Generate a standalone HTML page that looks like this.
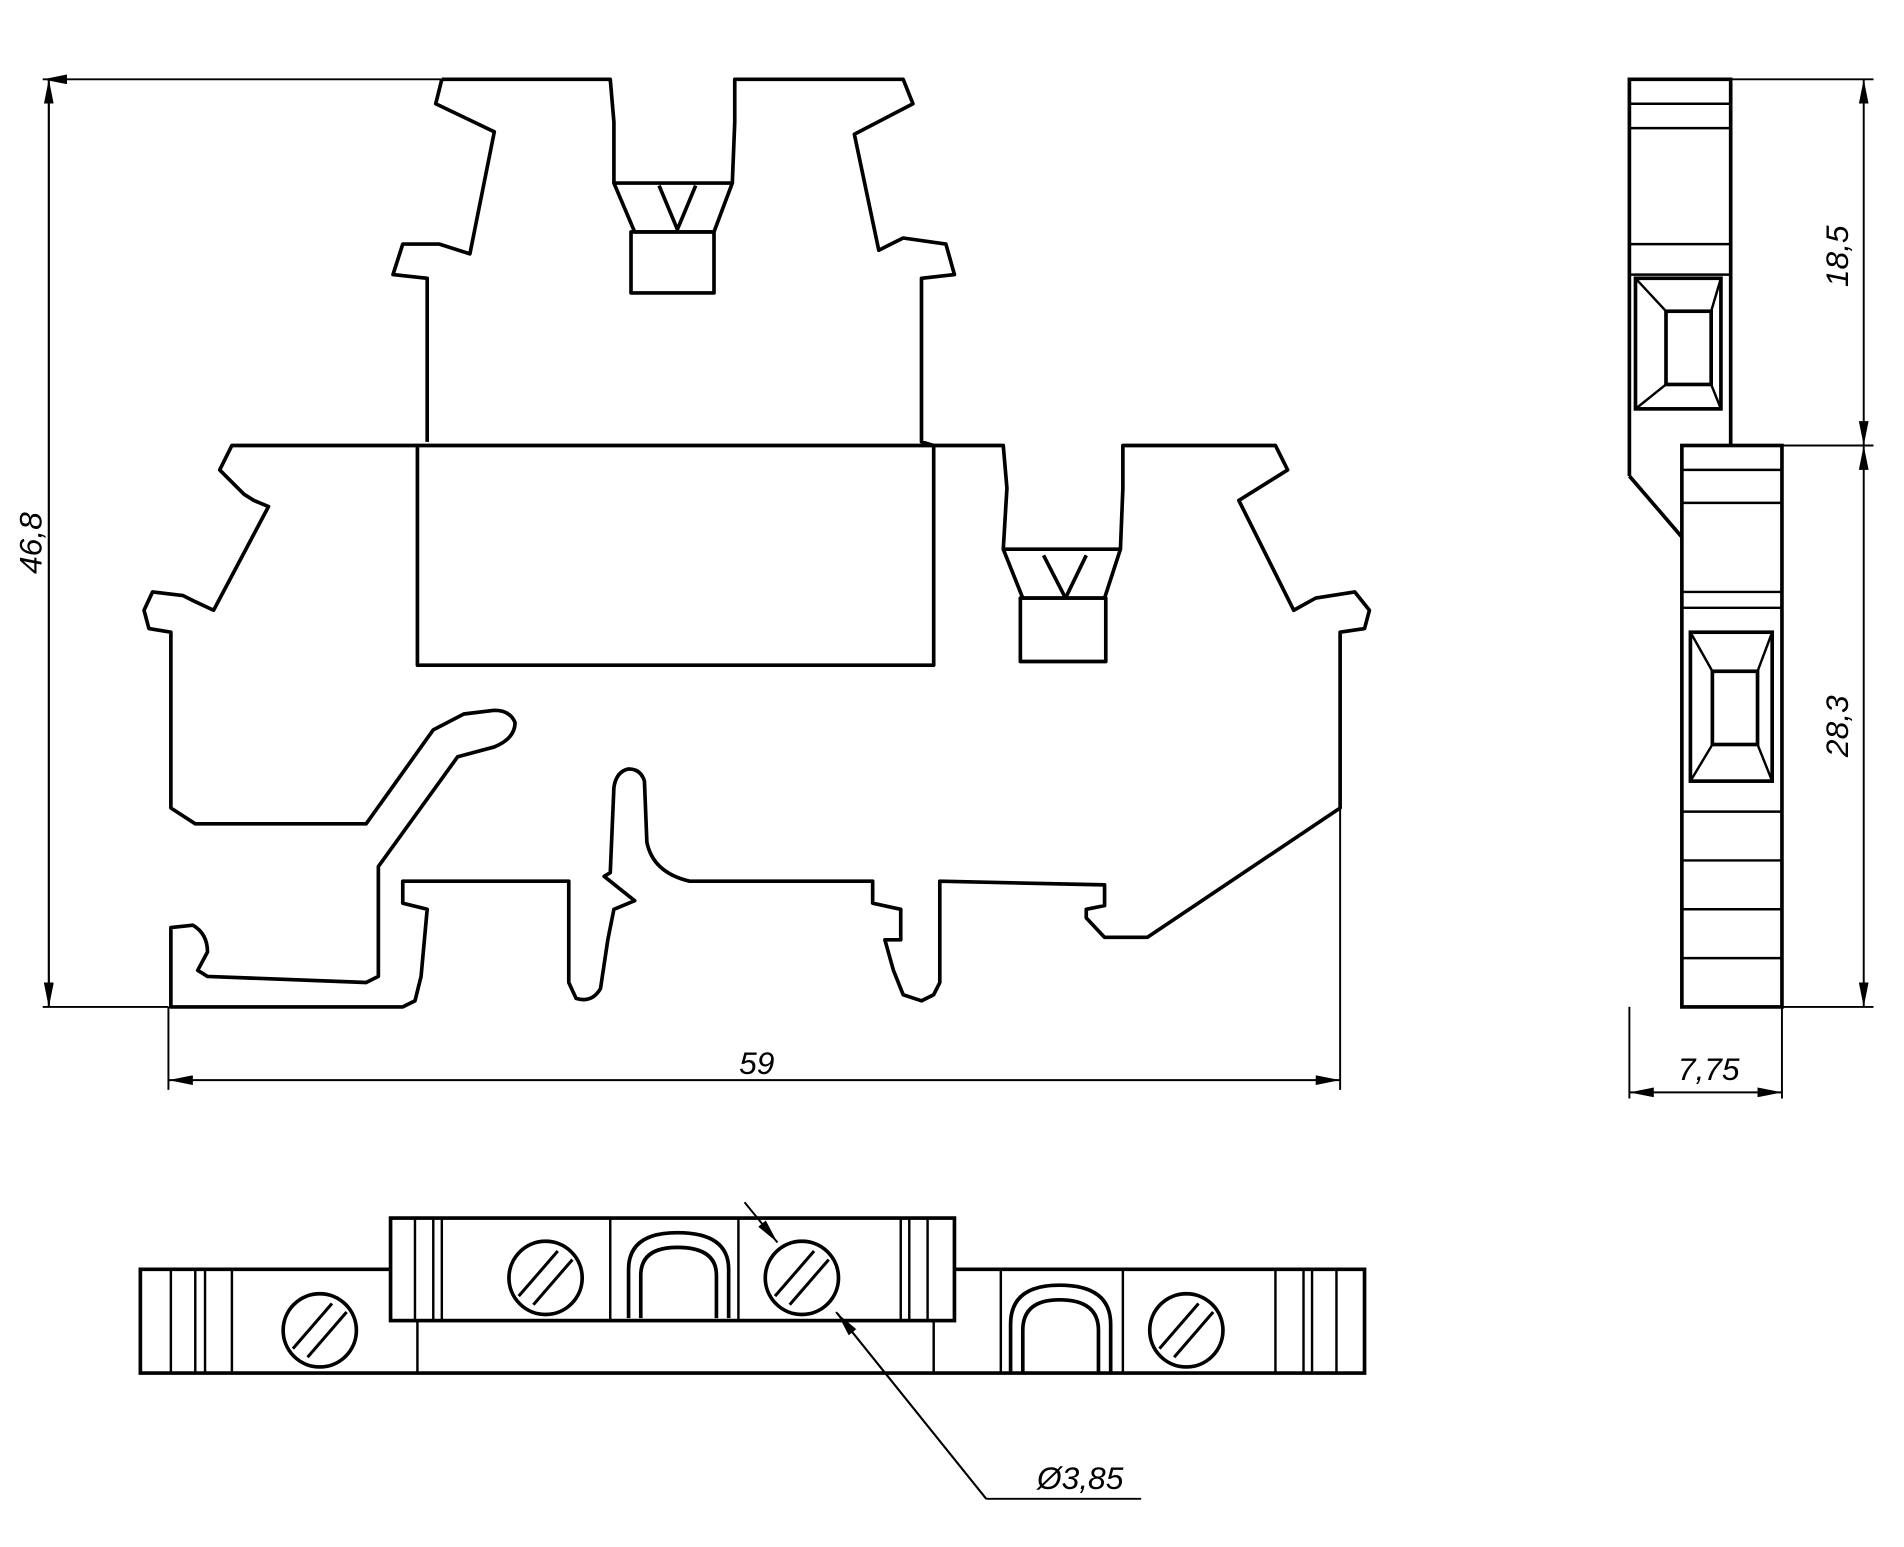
<!DOCTYPE html>
<html><head><meta charset="utf-8"><style>
html,body{margin:0;padding:0;background:#fff;}
svg{display:block;}
text{font-family:"Liberation Sans",sans-serif;font-style:italic;font-size:26px;fill:#000;}
</style></head><body>
<svg width="1904" height="1547" viewBox="0 0 1560 1267.5" preserveAspectRatio="none" xmlns="http://www.w3.org/2000/svg">
<defs><marker id="a" viewBox="0 0 20 8" refX="20" refY="4" markerWidth="20" markerHeight="8" orient="auto-start-reverse" markerUnits="userSpaceOnUse"><path d="M0,0 L20,4 L0,8 Z" fill="#000"/></marker></defs>
<g fill="none" stroke="#000" stroke-width="3" stroke-linejoin="round">
<!-- front view outline -->
<path d="M362,65 L500,65 L503,100 L503,150 M600,150 L602,100 L602,65 L740,65 L748,85 L700,110 L720,205 L740,195 L775,200 L782,225 L755,228 L755,362 L765,365 L822,365 L825,400 L822,450 M918,450 L920,400 L920,365 L1045,365 L1055,385 L1015,410 L1060,500 L1078,490 L1110,485 L1122,500 L1118,515 L1098,518 L1098,662 L940,768 L905,768 L890,752 L890,745 L905,742 L905,725 L770,722 L770,805 L765,815 L755,820 L740,815 L732,795 L725,770 L738,770 L738,745 L715,740 L715,722 L565,722 Q535,715 530,690 L528,640 Q525,630 515,630 Q505,632 503,645 L500,715 L495,718 L520,738 L503,745 L498,770 L492,810 Q485,822 472,818 L466,805 L466,722 L330,722 L330,740 L350,745 L345,800 L340,820 L330,825 L140,825 L140,760 L158,758 Q170,765 170,780 L162,795 L170,800 L300,805 L310,800 L310,710 L375,620 L405,612 Q422,605 422,592 Q418,582 405,582 L380,585 L355,598 L300,675 L160,675 L140,662 L140,518 L122,515 L118,500 L125,485 L150,488 L160,493 L175,500 L220,415 L208,410 L200,405 L180,385 L190,365 L342,365 M350,362 L350,228 L322,225 L330,200 L360,200 L385,208 L405,108 L357,85 L362,65"/>
<rect x="342" y="365" width="423" height="180"/>
<path d="M503,150 L600,150 L585,190 L520,190 Z M540,152 L555,188 L570,152"/>
<rect x="517" y="190" width="68" height="50"/>
<path d="M822,450 L918,450 L905,490 L838,490 Z M855,455 L873,490 L890,455"/>
<rect x="836" y="490" width="70" height="52"/>
</g>
<g fill="none" stroke="#000" stroke-width="1.6">
<!-- dimensions front -->
<path d="M35,65 L362,65 M35,825 L138,825 M40,65 L40,825" marker-start="url(#a)" marker-end="url(#a)"/>
<path d="M40,65 L40,825" marker-start="url(#a)" marker-end="url(#a)"/>
<path d="M138,825 L138,893 M1098,662 L1098,893"/>
<path d="M138,885 L1098,885" marker-start="url(#a)" marker-end="url(#a)"/>
<!-- side dims -->
<path d="M1418,65 L1535,65 M1418,365 L1535,365 M1460,825 L1535,825 M1335,825 L1335,900 M1460,825 L1460,900"/>
<path d="M1527,65 L1527,365" marker-start="url(#a)" marker-end="url(#a)"/>
<path d="M1527,365 L1527,825" marker-start="url(#a)" marker-end="url(#a)"/>
<path d="M1335,895 L1460,895" marker-start="url(#a)" marker-end="url(#a)"/>
<!-- leader -->
<path d="M808,1228 L935,1228 M808,1228 L685,1075"/>
<path d="M808,1228 L686,1076" marker-end="url(#a)"/>
<path d="M610,985 L637,1018" marker-end="url(#a)"/>
</g>
<g fill="none" stroke="#000" stroke-width="3">
<!-- side view -->
<path d="M1335,390 L1335,65 L1418,65 L1418,365 M1335,390 L1378,440"/>
<path d="M1335,85 L1418,85 M1335,105 L1418,105 M1335,200 L1418,200 M1335,225 L1418,225" stroke-width="2"/>
<rect x="1340" y="228" width="70" height="107"/>
<rect x="1365" y="255" width="37" height="60"/>
<path d="M1340,228 L1365,255 M1410,228 L1402,255 M1340,335 L1365,315 M1410,335 L1402,315" stroke-width="2"/>
<rect x="1378" y="365" width="82" height="460"/>
<path d="M1378,385 L1460,385 M1378,412 L1460,412 M1378,485 L1460,485 M1378,498 L1460,498 M1378,665 L1460,665 M1378,705 L1460,705 M1378,745 L1460,745 M1378,785 L1460,785" stroke-width="2"/>
<rect x="1385" y="518" width="67" height="122"/>
<rect x="1403" y="550" width="37" height="60"/>
<path d="M1385,518 L1403,550 M1452,518 L1440,550 M1385,640 L1403,610 M1452,640 L1440,610" stroke-width="2"/>
<!-- top view -->
<path d="M320,1040 L115,1040 L115,1125 L1118,1125 L1118,1040 L782,1040"/>
<rect x="320" y="998" width="462" height="84"/>
<path d="M342,1082 L342,1125 M765,1082 L765,1125" stroke-width="2"/>
<path d="M140,1040 L140,1125 M160,1040 L160,1125 M168,1040 L168,1125 M190,1040 L190,1125 M340,998 L340,1082 M355,998 L355,1082 M362,998 L362,1082 M745,998 L745,1082 M738,998 L738,1082 M760,998 L760,1082 M1045,1040 L1045,1125 M1068,1040 L1068,1125 M1075,1040 L1075,1125 M1095,1040 L1095,1125 M500,998 L500,1082 M605,998 L605,1082 M920,1040 L920,1125 M820,1040 L820,1125" stroke-width="2"/>
<path d="M515,1080 L515,1040 Q515,1010 555,1010 Q597,1010 597,1040 L597,1080 M525,1080 L525,1045 Q525,1022 555,1022 Q587,1022 587,1045 L587,1080"/>
<path d="M828,1125 L828,1085 Q828,1053 868,1053 Q910,1053 910,1085 L910,1125 M838,1125 L838,1090 Q838,1065 868,1065 Q900,1065 900,1090 L900,1125"/>
<circle cx="262" cy="1090" r="30"/><circle cx="447" cy="1047" r="30"/><circle cx="657" cy="1047" r="30"/><circle cx="972" cy="1090" r="30"/>
<path d="M240,1105 L272,1068 M252,1112 L284,1075 M425,1062 L457,1025 M437,1069 L469,1032 M635,1062 L667,1025 M647,1069 L679,1032 M950,1105 L982,1068 M962,1112 L994,1075" stroke-width="2.5"/>
</g>
<text x="0" y="0" transform="translate(34,445) rotate(-90)" text-anchor="middle">46,8</text>
<text x="620" y="880" text-anchor="middle">59</text>
<text x="0" y="0" transform="translate(1514,210) rotate(-90)" text-anchor="middle">18,5</text>
<text x="0" y="0" transform="translate(1514,595) rotate(-90)" text-anchor="middle">28,3</text>
<text x="1400" y="885" text-anchor="middle">7,75</text>
<text x="885" y="1220" text-anchor="middle">Ø3,85</text>
</svg>
</body></html>
